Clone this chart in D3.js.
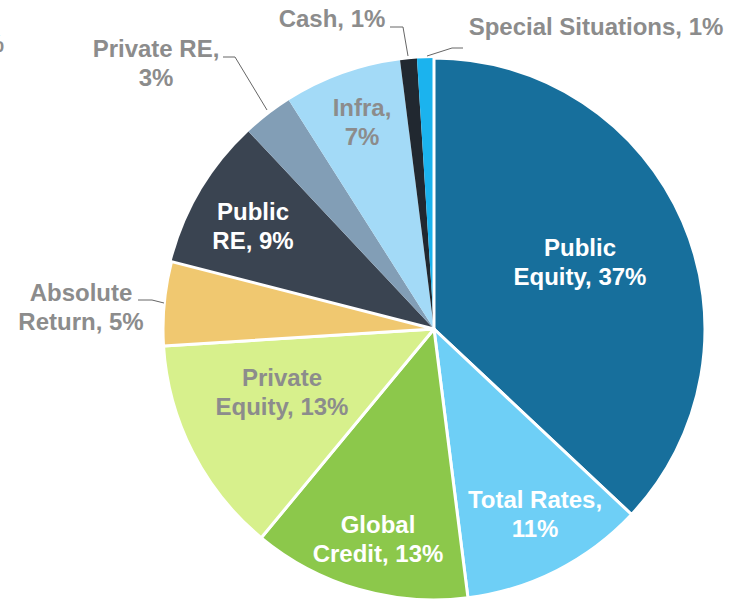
<!DOCTYPE html>
<html>
<head>
<meta charset="utf-8">
<script src="https://cdn.jsdelivr.net/npm/d3@7"></script>
<style>
  body { margin: 0; background: #fff; }
  svg { display: block; }
</style>
</head>
<body>
<svg id="chart" width="732" height="601"></svg>
<script>
// allocation, clockwise from 12 o'clock
var categories = ["Public Equity", "Total Rates", "Global Credit", "Private Equity", "Absolute Return",
                  "Public RE", "Private RE", "Infra", "Cash", "Special Situations"];
var values = [37, 11, 13, 13, 5, 9, 3, 7, 1, 1];
var colors = ["#176f9c", "#6ecff6", "#8cc84b", "#d7f08c", "#f0c870",
              "#3a4451", "#829eb6", "#a3daf7", "#212830", "#1bb3ee"];
// label lines as shown in the picture
var labelLines = [["Public", "Equity, 37%"], ["Total Rates,", "11%"], ["Global", "Credit, 13%"],
                  ["Private", "Equity, 13%"], ["Absolute", "Return, 5%"], ["Public", "RE, 9%"],
                  ["Private RE,", "3%"], ["Infra,", "7%"], ["Cash, 1%"], ["Special Situations, 1%"]];
var labelColors = ["#fff", "#fff", "#fff", "#8c8c8c", "#8c8c8c", "#fff", "#8c8c8c", "#8c8c8c", "#8c8c8c", "#8c8c8c"];
var strokeSlices = [true, true, true, true, true, false, false, false, false, false];
// label anchor (centre x, first baseline y)
var labelPos = [[580, 256], [535, 508], [378, 533], [282, 386], [81, 301],
                [253, 220], [156, 57], [362, 116], [332, 27], [596, 35]];
// leader lines for outside labels
var leaders = {
  4: [[138, 300], [152, 300], [164, 303]],
  6: [[223, 57], [235, 57], [267, 110]],
  8: [[390, 27], [403, 27], [408, 56]],
  9: [[463, 48], [452, 48], [427, 56]]
};

var data = categories.map(function(c, i) { return {name: c, value: values[i], i: i}; });

var svg = d3.select("#chart");
var cx = 434, cy = 329, radius = 271;
var font = "'Liberation Sans', Arial, Helvetica, sans-serif";

var pie = d3.pie().sort(null).value(function(d) { return d.value; });
var arc = d3.arc().innerRadius(0).outerRadius(radius);

var g = svg.append("g").attr("transform", "translate(" + cx + "," + cy + ")");

// dark slices first, white-edged slices drawn on top
var arcs = pie(data);
var order = arcs.slice(5).concat(arcs.slice(0, 5));
g.selectAll("path").data(order).enter().append("path")
  .attr("d", arc)
  .attr("fill", function(d) { return colors[d.data.i]; })
  .attr("stroke", function(d) { return strokeSlices[d.data.i] ? "#fff" : "none"; })
  .attr("stroke-width", 3)
  .attr("stroke-linejoin", "round");

// leader lines
var line = d3.line();
Object.keys(leaders).forEach(function(k) {
  svg.append("path").attr("d", line(leaders[k]))
    .attr("fill", "none").attr("stroke", "#666").attr("stroke-width", 1);
});

// labels
var labels = svg.selectAll("text.lbl").data(data).enter().append("text")
  .attr("class", "lbl")
  .attr("text-anchor", "middle")
  .attr("font-family", font)
  .attr("font-weight", "bold")
  .attr("font-size", 24)
  .attr("fill", function(d) { return labelColors[d.i]; });

labels.each(function(d) {
  var t = d3.select(this);
  labelLines[d.i].forEach(function(s, j) {
    t.append("tspan").attr("x", labelPos[d.i][0]).attr("y", labelPos[d.i][1] + j * 29).text(s);
  });
});

// clipped fragment at the left edge
svg.append("text").attr("x", 4).attr("y", 52).attr("text-anchor", "end")
  .attr("font-family", font).attr("font-weight", "bold").attr("font-size", 24)
  .attr("fill", "#8c8c8c").text("%");
</script>
</body>
</html>
